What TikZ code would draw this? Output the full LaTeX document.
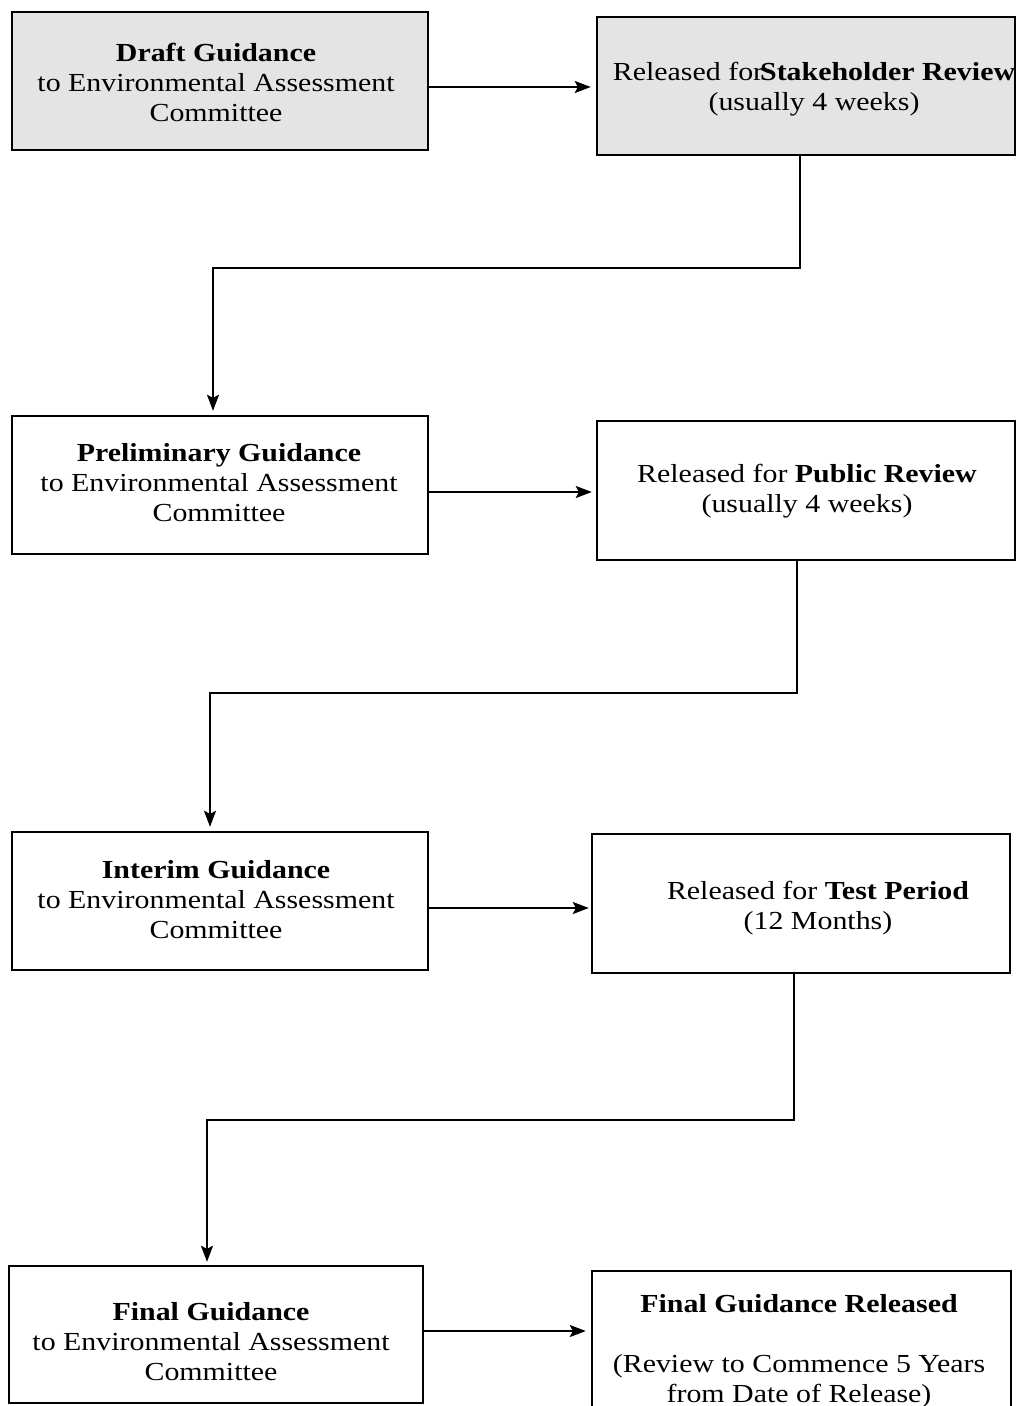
\documentclass[tikz,border=0pt]{standalone}
\usepackage{fontspec}
\setmainfont{Liberation Serif}[FakeStretch=1.15]
\usetikzlibrary{arrows.meta}
\definecolor{boxgray}{HTML}{E4E4E4}
\tikzset{
  box/.style={draw=black, line width=2.4pt, inner sep=0pt},
  graybox/.style={box, fill=boxgray},
  txt/.style={align=center, inner sep=0pt, font=\fontsize{26}{30}\selectfont},
  arr/.style={line width=2pt, -{Stealth[length=16pt,width=12pt,inset=3pt]}},
}
\begin{document}
\begin{tikzpicture}[x=1pt,y=1pt]
\useasboundingbox (0,0) rectangle (1019,-1406);
\clip (0,0) rectangle (1019,-1406);
% boxes
\node[graybox, minimum width=416pt, minimum height=138pt] (b1) at (220,-81) {};
\node[graybox, minimum width=418pt, minimum height=138pt] (b2) at (806,-86) {};
\node[box, minimum width=416pt, minimum height=138pt] (b3) at (220,-485) {};
\node[box, minimum width=418pt, minimum height=139pt] (b4) at (806,-490.5) {};
\node[box, minimum width=416pt, minimum height=138pt] (b5) at (220,-901) {};
\node[box, minimum width=418pt, minimum height=139pt] (b6) at (801,-903.5) {};
\node[box, minimum width=414pt, minimum height=137pt] (b7) at (216,-1334.5) {};
\node[box, minimum width=419pt, minimum height=156pt] (b8) at (801.5,-1349) {};
% texts
\node[txt] (t1) at (216,-82) {\textbf{Draft Guidance}\\to Environmental Assessment\\Committee};
\node[txt] (t2) at (814,-89) {Released for\hspace{-3pt}\textbf{Stakeholder Review}\\(usually 4 weeks)};
\node[txt] (t3) at (219,-483) {\textbf{Preliminary Guidance}\\to Environmental Assessment\\Committee};
\node[txt] (t4) at (807,-491) {Released for \textbf{Public Review}\\(usually 4 weeks)};
\node[txt] (t5) at (216,-900) {\textbf{Interim Guidance}\\to Environmental Assessment\\Committee};
\node[txt] (t6) at (818,-908) {Released for \textbf{Test Period}\\(12 Months)};
\node[txt] (t7) at (211,-1342) {\textbf{Final Guidance}\\to Environmental Assessment\\Committee};
\node[txt] (t8) at (799,-1351) {\textbf{Final Guidance Released}\\[30pt](Review to Commence 5 Years\\from Date of Release)};
% junction coordinates
\coordinate (j1) at (213,-268);
\coordinate (j2) at (210,-693);
\coordinate (j3) at (207,-1120);
% horizontal arrows
\draw[arr, shorten >=5pt] (b1.east |- 0,-87) -- (b2.west |- 0,-87);
\draw[arr, shorten >=4pt] (b3.east |- 0,-492) -- (b4.west |- 0,-492);
\draw[arr, shorten >=2pt] (b5.east |- 0,-908) -- (b6.west |- 0,-908);
\draw[arr, shorten >=5pt] (b7.east |- 0,-1331) -- (b8.west |- 0,-1331);
% elbow connectors
\draw[arr, shorten >=4pt] ([xshift=-6pt]b2.south) |- (j1) -- ([xshift=-7pt]b3.north);
\draw[arr, shorten >=4pt] ([xshift=-9pt]b4.south) |- (j2) -- ([xshift=-10pt]b5.north);
\draw[arr, shorten >=3pt] ([xshift=-7pt]b6.south) |- (j3) -- ([xshift=-9pt]b7.north);
\end{tikzpicture}
\end{document}
